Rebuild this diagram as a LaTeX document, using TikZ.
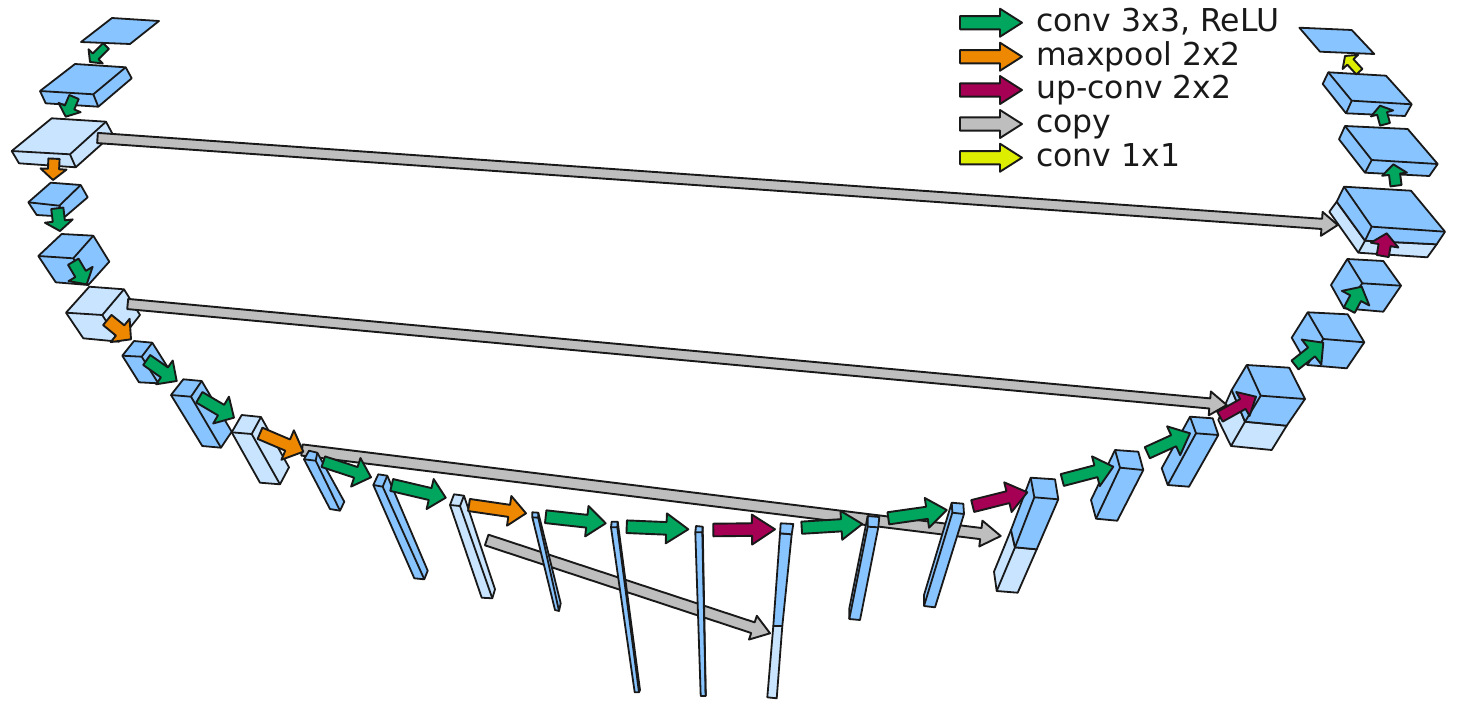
\documentclass[tikz,border=0pt]{standalone}
\usepackage{fontspec}
\setmainfont{DejaVu Sans}
\usepackage{xcolor}
\usetikzlibrary{calc}
\definecolor{blockblue}{RGB}{136,196,255}
\definecolor{blocklight}{RGB}{200,228,255}
\definecolor{convgreen}{RGB}{0,166,93}
\definecolor{pooltone}{RGB}{238,136,0}
\definecolor{upred}{RGB}{166,0,85}
\definecolor{copygrey}{RGB}{190,190,190}
\definecolor{lastyellow}{RGB}{221,238,0}
\tikzset{
  blockline/.style={draw=black!90,line width=1.8pt,line join=round},
  flowline/.style={draw=black!90,line width=1.9pt,line join=round},
  legendtext/.style={anchor=base west,inner sep=0pt,text=black!90,font=\fontsize{31.5}{36}\selectfont}
}
% hexagon outline P1..P6, then near corner joined to P2, P4, P6
\newcommand{\cube}[8]{%
  \draw[blockline,fill=#1] (#2) -- (#3) -- (#4) -- (#5) -- (#6) -- (#7) -- cycle;
  \draw[blockline] (#8) -- (#3) (#8) -- (#5) (#8) -- (#7);
}
% name, colour, tail, tip, half shaft, half head, head length
\newcommand{\flow}[7]{%
  \pgfmathsetmacro{\shafthalf}{#5+0.6}
  \pgfmathsetmacro{\headhalf}{#6+1}
  \coordinate (#1s) at (#3);
  \coordinate (#1t) at (#4);
  \coordinate (#1h) at ($(#1t)!#7pt!(#1s)$);
  \draw[flowline,fill=#2] ($(#1s)!\shafthalf pt!90:(#1t)$) -- ($(#1h)!\shafthalf pt!90:(#1t)$) -- ($(#1h)!\headhalf pt!90:(#1t)$)
    -- (#1t) -- ($(#1h)!\headhalf pt!-90:(#1t)$) -- ($(#1h)!\shafthalf pt!-90:(#1t)$) -- ($(#1s)!\shafthalf pt!-90:(#1t)$) -- cycle;
}
\begin{document}
\begin{tikzpicture}[x=1pt,y=-1pt]
\useasboundingbox (0,0) rectangle (1458,712);
% Long copy arrows that pass behind the bars
\flow{copyC}{copygrey}{302,450}{1000.7,536}{5}{12}{20}
\flow{copyD}{copygrey}{486.7,540}{770,633.3}{5}{11.5}{18}
% Contracting path
\draw[blockline,fill=blockblue] (112,18) -- (159,21) -- (130,44) -- (81,42) -- cycle;
\cube{blockblue}{75,64}{125.7,67.3}{131.7,78.3}{98.3,106.7}{45.7,103.3}{40,91}{93.3,94.3}
\cube{blocklight}{51.7,118.3}{106,121.7}{112.7,134.3}{75.7,167.3}{19,163.3}{11.7,151}{70,154.3}
\cube{blockblue}{50.7,182.7}{80.7,185}{87.7,197.3}{65,216.7}{36.7,215}{28.3,202.3}{59.3,205.7}
\cube{blockblue}{61.7,234}{93.3,235.7}{109.3,261.7}{88.3,285}{55.7,282.3}{38.3,256}{73.3,258.3}
\cube{blocklight}{89.3,286.7}{124,289.3}{140,315}{119,341.7}{83.3,338.3}{66,312.7}{102.3,315}
\cube{blockblue}{134,341}{152.3,342.7}{169,369.3}{158.3,383.3}{139,382.3}{122.3,355.7}{141.7,356.7}
\cube{blockblue}{183.3,379.3}{201.7,381}{231.7,431.7}{221,447.7}{202.3,446}{171,395}{191,396.7}
\cube{blocklight}{241.7,415}{261,417}{289,467.3}{280,484.3}{260,482.7}{231.7,432.3}{251.7,434}
\cube{blockblue}{309,450.7}{317.3,452.7}{344.3,501.7}{340,510.7}{330,509}{304,459.3}{315.7,460.7}
\cube{blockblue}{378.3,474.3}{387.3,475.7}{427.7,570.7}{424.3,579.3}{414.3,578.3}{373.3,485}{382.7,486.7}
\cube{blocklight}{454,494.3}{464,495.7}{495,589.3}{492.3,598.3}{481.7,597.7}{450,505}{460,506}
\cube{blockblue}{532.3,512.3}{538.3,512.7}{560.7,603.3}{559,611}{555,610}{532.3,517.3}{538.3,517.7}
\cube{blockblue}{611.7,521.7}{617.7,521.7}{640,690}{639,692.3}{634.7,692.3}{611,527.3}{617.3,527.3}
\cube{blockblue}{696,526}{702.7,526.7}{705.7,695}{705.7,696}{700.7,696}{695.3,532.3}{702.3,532.3}
% Bottom bar, half copied
\draw[blockline,fill=blocklight] (773.3,626) -- (782.3,626) -- (776.7,698.3) -- (767.3,697.3) -- cycle;
\draw[blockline,fill=blockblue] (780,533.3) -- (791.7,534.3) -- (782.3,626) -- (773.3,626) -- cycle;
\draw[blockline,fill=blockblue] (780.7,523.3) -- (793.3,524) -- (791.7,534.3) -- (780,533.3) -- cycle;
% Expanding path
\cube{blockblue}{879.3,517}{878.3,527.3}{860,620}{849.3,619}{849.3,608.3}{867.7,516}{867.7,526.7}
\cube{blockblue}{963.3,503.7}{964,514}{935,607.3}{924,606}{924,595}{951.7,502.7}{952.3,512.7}
\cube{blocklight}{1032,532}{1036.7,549.3}{1017.7,592.7}{996.7,591}{994,571.7}{1011,530}{1015,547.3}
\cube{blockblue}{1055,479.3}{1058.3,499.3}{1036.7,549.3}{1015,547.3}{1011,530}{1030.7,477.7}{1034.3,497.3}
\cube{blockblue}{1138.3,451.7}{1143.3,470}{1117.3,520.7}{1096,518.7}{1091,500}{1115,450}{1120,467.7}
\cube{blockblue}{1212.7,418.3}{1218.3,435}{1189,486.7}{1167.7,485}{1161.7,468.3}{1190,416.7}{1196,433.3}
\cube{blocklight}{1275,395}{1286.7,425.7}{1271.7,450}{1231,446}{1218.3,420}{1231.7,390}{1245,421.7}
\cube{blockblue}{1289.3,367.7}{1305,399}{1286.7,425.7}{1245,421.7}{1231.7,390}{1246.7,365}{1260.7,395.7}
\cube{blockblue}{1347.7,314.3}{1364.3,342.3}{1346.7,368.3}{1307.3,365}{1291.7,337.7}{1307.7,312.3}{1323.3,339}
\cube{blockblue}{1383.3,261}{1401,285.7}{1383.3,311.7}{1344,308.3}{1331,285}{1347.3,259}{1362.3,283.3}
\cube{blocklight}{1400,210}{1436.7,244.3}{1427.3,257.3}{1358.3,252.7}{1329.3,211.7}{1336.7,201.7}{1365,240.7}
\cube{blockblue}{1411,190.7}{1445,231.7}{1436.7,244.3}{1365,240.7}{1336.7,201.7}{1344,186.7}{1371.7,226.7}
\cube{blockblue}{1407.7,129}{1437.7,164}{1429.3,176}{1365,172.7}{1339,139.3}{1345,126}{1371.7,160}
\cube{blockblue}{1386,75.7}{1411.7,104.3}{1405,116}{1346,113.3}{1322.7,84}{1328.3,72.3}{1351.7,100.7}
\draw[blockline,fill=blockblue] (1299.3,27.7) -- (1351.7,30) -- (1374.3,54) -- (1320,51.7) -- cycle;
% Copy arrows on top of the blocks
\flow{copyA}{copygrey}{97.5,138}{1337.7,225}{4.5}{11}{16}
\flow{copyB}{copygrey}{127.7,304}{1226.7,405}{4.5}{11}{17}
% Arrows going down
\flow{down1}{convgreen}{106,46}{90,62}{3.5}{9}{8}
\flow{down2}{convgreen}{74,97}{65.7,116.7}{4.5}{11}{10}
\flow{pool1}{pooltone}{54,158.7}{53,180}{5}{12}{11}
\flow{down3}{convgreen}{57.3,208.3}{60,231}{5.5}{13}{10}
\flow{down4}{convgreen}{73.3,261.7}{86.7,284.3}{5.5}{13}{12}
\flow{pool2}{pooltone}{107.3,320}{131,339.3}{6}{14}{14}
\flow{down5}{convgreen}{146.7,360}{176.7,381}{5.5}{13.5}{15}
\flow{down6}{convgreen}{199.3,397.3}{234,417.7}{5.5}{14.5}{15}
\flow{pool3}{pooltone}{260,433.3}{303.3,451.7}{5.5}{15}{17}
\flow{down7}{convgreen}{323.3,461.7}{371,477.3}{5}{14}{16}
\flow{down8}{convgreen}{391.7,485}{445.7,497.7}{5.5}{14.4}{16}
\flow{pool4}{pooltone}{469,505}{526,513.3}{5.5}{14}{17}
\flow{down9}{convgreen}{545.7,516.7}{605.7,523.3}{5.8}{14.3}{19}
\flow{down10}{convgreen}{626.7,526.7}{688.3,529.3}{5.7}{14}{22}
% Arrows going up
\flow{up1}{upred}{713.3,530}{775,529.3}{5.7}{14}{23}
\flow{conv1}{convgreen}{801.7,527.7}{862.3,524}{5.5}{13.5}{21}
\flow{conv2}{convgreen}{888.3,518.3}{946.7,510}{5.5}{14}{20}
\flow{up2}{upred}{972.7,506}{1027.3,492.3}{5.5}{14.3}{20}
\flow{conv3}{convgreen}{1062.3,480}{1113.3,466.7}{5.5}{14.4}{18}
\flow{conv4}{convgreen}{1147.3,452.7}{1190,433.3}{5.5}{14.8}{18}
\flow{up3}{upred}{1220,416.7}{1256,396.7}{5}{12.7}{15}
\flow{conv5}{convgreen}{1295,365}{1323.3,342.7}{5}{14.8}{15}
\flow{conv6}{convgreen}{1349.3,310}{1361.7,286.7}{5.5}{14.5}{13}
\flow{up4}{upred}{1382.7,256}{1386.7,233.3}{5.5}{13}{12}
\flow{conv7}{convgreen}{1396,185.7}{1393.3,164.3}{5}{11.5}{10}
\flow{conv8}{convgreen}{1385,124.3}{1380,105.7}{4.5}{10.5}{8}
\flow{last}{lastyellow}{1359.3,71.7}{1345,56}{3.5}{9.5}{8}
% Legend
\flow{keyA}{convgreen}{960,22.7}{1022,22.7}{6}{13}{22}
\flow{keyB}{pooltone}{960,56.7}{1022,56.7}{6}{13}{22}
\flow{keyC}{upred}{960,90}{1022,90}{6}{13}{22}
\flow{keyD}{copygrey}{960,124}{1022,124}{6}{13}{22}
\flow{keyE}{lastyellow}{960,157.7}{1022,157.7}{6}{13}{22}
\node[legendtext] (labelA) at (1036,31) {conv 3x3, ReLU};
\node[legendtext] (labelB) at (1036,65) {maxpool 2x2};
\node[legendtext] (labelC) at (1036,98.5) {up-conv 2x2};
\node[legendtext] (labelD) at (1036,132) {copy};
\node[legendtext] (labelE) at (1036,166) {conv 1x1};
\end{tikzpicture}
\end{document}
